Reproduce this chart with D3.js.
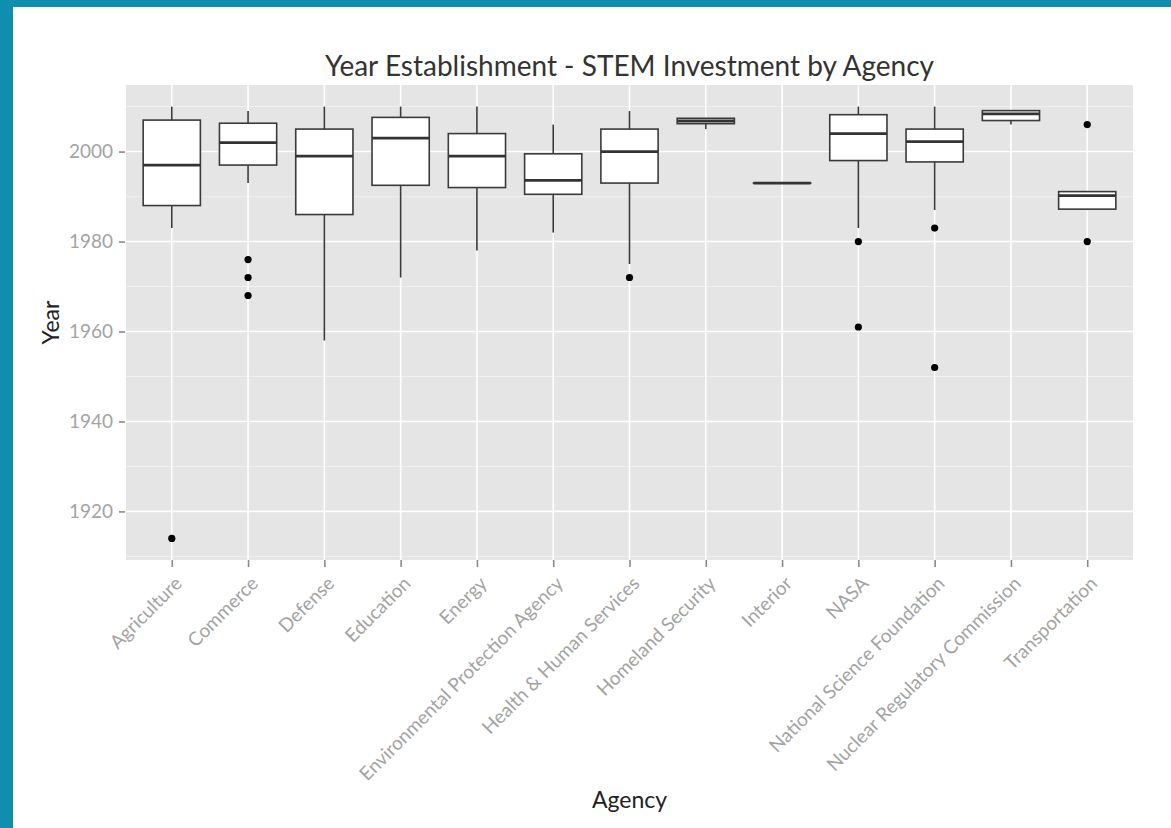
<!DOCTYPE html>
<html>
<head>
<meta charset="utf-8">
<script src="https://cdn.jsdelivr.net/npm/d3@7"></script>
<style>
  html, body { margin: 0; padding: 0; background: #ffffff; }
  svg { display: block; }
</style>
</head>
<body>
<svg id="chart" width="1171" height="828"></svg>
<script>
// ---- data ----
const agencies = ["Agriculture", "Commerce", "Defense", "Education", "Energy",
  "Environmental Protection Agency", "Health & Human Services", "Homeland Security",
  "Interior", "NASA", "National Science Foundation", "Nuclear Regulatory Commission",
  "Transportation"];
const whiskerLow  = [1983, 1993, 1958, 1972,   1978, 1982,   1975, 2005,   1993, 1983, 1987,   2006,   1987];
const boxLow      = [1988, 1997, 1986, 1992.5, 1992, 1990.5, 1993, 2006.2, 1993, 1998, 1997.7, 2006.9, 1987.2];
const medians     = [1997, 2002, 1999, 2003,   1999, 1993.6, 2000, 2006.8, 1993, 2004, 2002.2, 2008.4, 1990.2];
const boxHigh     = [2007, 2006.3, 2005, 2007.6, 2004, 1999.5, 2005, 2007.4, 1993, 2008.2, 2005, 2009.1, 1991.1];
const whiskerHigh = [2010, 2009, 2010, 2010,   2010, 2006,   2009, 2007.4, 1993, 2010, 2010,   2009.1, 1991.1];
const outliers    = [[1914], [1976, 1972, 1968], [], [], [], [], [1972], [], [], [1980, 1961], [1983, 1952], [], [2006, 1980]];
const yTicks      = [1920, 1940, 1960, 1980, 2000];
const yMinorTicks = [1910, 1930, 1950, 1970, 1990, 2010];
const yDomain     = [1909.2, 2014.8];
const titleText   = "Year Establishment - STEM Investment by Agency";
const xTitle      = "Agency";
const yTitle      = "Year";

// ---- layout ----
const W = 1171, H = 828;
const panel = { left: 126, right: 1133, top: 85, bottom: 560 };
const FONT = "Lato, 'Open Sans', sans-serif";

const svg = d3.select("#chart");

// teal frame
svg.append("rect").attr("x", 0).attr("y", 0).attr("width", W).attr("height", 7).attr("fill", "#0f8fb0");
svg.append("rect").attr("x", 0).attr("y", 0).attr("width", 13).attr("height", H).attr("fill", "#0f8fb0");

const x = d3.scalePoint().domain(agencies).range([panel.left, panel.right]).padding(0.6);
const y = d3.scaleLinear().domain(yDomain).range([panel.bottom, panel.top]);
const boxW = x.step() * 0.75;

// panel background
svg.append("rect")
  .attr("x", panel.left).attr("y", panel.top)
  .attr("width", panel.right - panel.left).attr("height", panel.bottom - panel.top)
  .attr("fill", "#e5e5e5");

// minor grid
svg.append("g").selectAll("line").data(yMinorTicks).join("line")
  .attr("x1", panel.left).attr("x2", panel.right)
  .attr("y1", d => y(d)).attr("y2", d => y(d))
  .attr("stroke", "#f2f2f2").attr("stroke-width", 0.9);

// major grid
svg.append("g").selectAll("line").data(yTicks).join("line")
  .attr("x1", panel.left).attr("x2", panel.right)
  .attr("y1", d => y(d)).attr("y2", d => y(d))
  .attr("stroke", "#ffffff").attr("stroke-width", 1.6);
svg.append("g").selectAll("line").data(agencies).join("line")
  .attr("x1", d => x(d)).attr("x2", d => x(d))
  .attr("y1", panel.top).attr("y2", panel.bottom)
  .attr("stroke", "#ffffff").attr("stroke-width", 1.6);

// boxplots
const boxes = svg.append("g").selectAll("g").data(agencies).join("g");
const STROKE = "#3a3a3a";
boxes.append("line")
  .attr("x1", d => x(d)).attr("x2", d => x(d))
  .attr("y1", (d, i) => y(whiskerHigh[i])).attr("y2", (d, i) => y(boxHigh[i]))
  .attr("stroke", STROKE).attr("stroke-width", 1.6);
boxes.append("line")
  .attr("x1", d => x(d)).attr("x2", d => x(d))
  .attr("y1", (d, i) => y(boxLow[i])).attr("y2", (d, i) => y(whiskerLow[i]))
  .attr("stroke", STROKE).attr("stroke-width", 1.6);
boxes.append("rect")
  .attr("x", d => x(d) - boxW / 2).attr("width", boxW)
  .attr("y", (d, i) => y(boxHigh[i]))
  .attr("height", (d, i) => Math.max(0.01, y(boxLow[i]) - y(boxHigh[i])))
  .attr("fill", "#ffffff").attr("stroke", STROKE).attr("stroke-width", 1.6);
boxes.append("line")
  .attr("x1", d => x(d) - boxW / 2).attr("x2", d => x(d) + boxW / 2)
  .attr("y1", (d, i) => y(medians[i])).attr("y2", (d, i) => y(medians[i]))
  .attr("stroke", "#333333").attr("stroke-width", 2.8);
boxes.each(function (d, i) {
  d3.select(this).selectAll("circle").data(outliers[i]).join("circle")
    .attr("cx", x(d)).attr("cy", v => y(v)).attr("r", 3.6).attr("fill", "#000000");
});

// y axis
const yAxis = d3.axisLeft(y).tickValues(yTicks).tickSize(6).tickPadding(6).tickFormat(d3.format("d"));
const gy = svg.append("g").attr("transform", `translate(${panel.left - 1},0)`).call(yAxis);
gy.select(".domain").remove();
gy.selectAll(".tick line").attr("stroke", "#8a8a8a").attr("stroke-width", 1.6);
gy.selectAll(".tick text").attr("fill", "#a3a3a3").style("font-family", FONT).style("font-size", "19px");

// x axis
const xAxis = d3.axisBottom(x).tickSize(7).tickPadding(0);
const gx = svg.append("g").attr("transform", `translate(0,${panel.bottom})`).call(xAxis);
gx.select(".domain").remove();
gx.selectAll(".tick line").attr("stroke", "#8a8a8a").attr("stroke-width", 1.6);
gx.selectAll(".tick text")
  .attr("fill", "#a3a3a3").style("font-family", FONT).style("font-size", "19px")
  .attr("text-anchor", "end")
  .attr("y", 0).attr("dy", "0.35em")
  .attr("transform", "translate(6,20) rotate(-45)");

// titles
svg.append("text").attr("x", (panel.left + panel.right) / 2).attr("y", 76)
  .attr("text-anchor", "middle").attr("fill", "#333333")
  .style("font-family", FONT).style("font-size", "28px").text(titleText);
svg.append("text").attr("x", (panel.left + panel.right) / 2).attr("y", 808)
  .attr("text-anchor", "middle").attr("fill", "#222222")
  .style("font-family", FONT).style("font-size", "23px").text(xTitle);
svg.append("text")
  .attr("transform", `translate(59,${(panel.top + panel.bottom) / 2}) rotate(-90)`)
  .attr("text-anchor", "middle").attr("fill", "#222222")
  .style("font-family", FONT).style("font-size", "23px").text(yTitle);
</script>
</body>
</html>
